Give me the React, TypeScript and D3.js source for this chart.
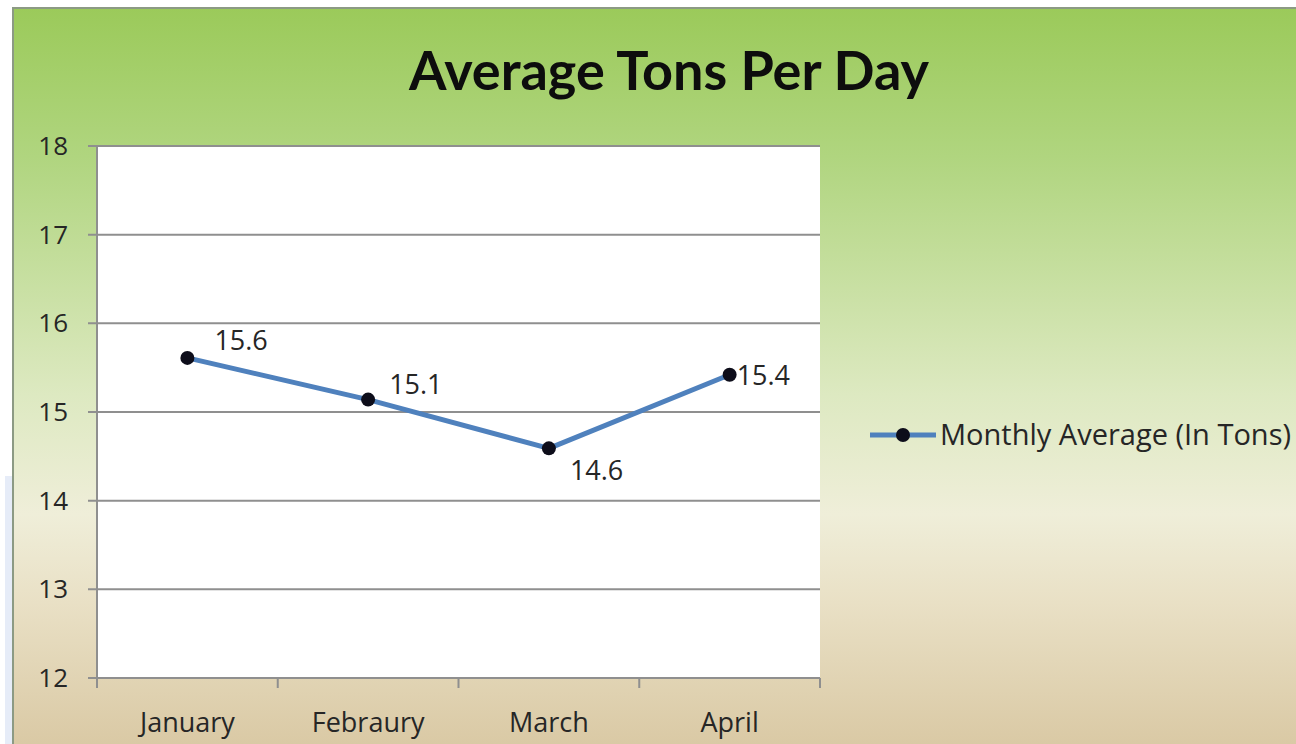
import { useEffect, useRef } from 'react'
import * as d3 from 'd3'

const months = ['January', 'Febraury', 'March', 'April']
const monthlyAverage = [15.61, 15.14, 14.59, 15.42]
const yTicks = [12, 13, 14, 15, 16, 17, 18]
const seriesName = 'Monthly Average (In Tons)'
const chartTitle = 'Average Tons Per Day'

const WIDTH = 1296
const HEIGHT = 744
const PLOT = { left: 97, top: 146, right: 820, bottom: 678 }
const FONT = '"Open Sans", Lato, sans-serif'
const TITLE_FONT = 'Lato, "Open Sans", sans-serif'

// label offsets per point (dx, dy) as Excel placed them
const LABEL_POS: Array<[number, number]> = [
  [27, -8],
  [21, -6],
  [21, 32],
  [7, 10],
]

export default function App() {
  const svgRef = useRef<SVGSVGElement | null>(null)

  useEffect(() => {
    if (!svgRef.current) {
      return
    }

    const svg = d3.select(svgRef.current)
    svg.selectAll('*').remove()

    const defs = svg.append('defs')
    const grad = defs
      .append('linearGradient')
      .attr('id', 'bg-grad')
      .attr('x1', 0)
      .attr('y1', 0)
      .attr('x2', 0)
      .attr('y2', 1)
    const stops: Array<[number, string]> = [
      [0, '#9bca5a'],
      [0.2, '#b0d57f'],
      [0.52, '#dde9c1'],
      [0.68, '#efeed9'],
      [0.8, '#e9e0c5'],
      [1, '#d9c8a3'],
    ]
    grad
      .selectAll('stop')
      .data(stops)
      .enter()
      .append('stop')
      .attr('offset', (d: [number, string]) => d[0])
      .attr('stop-color', (d: [number, string]) => d[1])

    svg.append('rect').attr('width', WIDTH).attr('height', HEIGHT).attr('fill', '#ffffff')
    svg
      .append('rect')
      .attr('x', 5)
      .attr('y', 476)
      .attr('width', 8)
      .attr('height', HEIGHT - 476)
      .attr('fill', '#e6ecf8')

    svg
      .append('rect')
      .attr('x', 13)
      .attr('y', 8)
      .attr('width', WIDTH)
      .attr('height', HEIGHT)
      .attr('fill', 'url(#bg-grad)')
      .attr('stroke', '#8c9a84')
      .attr('stroke-width', 2)

    const x = d3
      .scaleBand<string>()
      .domain(months)
      .range([PLOT.left, PLOT.right])
    const y = d3.scaleLinear().domain([12, 18]).range([PLOT.bottom, PLOT.top])

    svg
      .append('rect')
      .attr('x', PLOT.left)
      .attr('y', PLOT.top)
      .attr('width', PLOT.right - PLOT.left)
      .attr('height', PLOT.bottom - PLOT.top)
      .attr('fill', '#ffffff')

    // gridlines + left ticks
    svg
      .selectAll('line.grid')
      .data(yTicks)
      .enter()
      .append('line')
      .attr('class', 'grid')
      .attr('x1', PLOT.left - 9)
      .attr('x2', PLOT.right)
      .attr('y1', (d: number) => y(d))
      .attr('y2', (d: number) => y(d))
      .attr('stroke', '#8f8f8f')
      .attr('stroke-width', 2)

    svg
      .append('line')
      .attr('x1', PLOT.left)
      .attr('x2', PLOT.left)
      .attr('y1', PLOT.top)
      .attr('y2', PLOT.bottom + 10)
      .attr('stroke', '#8f8f8f')
      .attr('stroke-width', 2)

    const xTickPos = months.map((m) => x(m) as number).concat([PLOT.right])
    svg
      .selectAll('line.xtick')
      .data(xTickPos)
      .enter()
      .append('line')
      .attr('class', 'xtick')
      .attr('x1', (d: number) => d)
      .attr('x2', (d: number) => d)
      .attr('y1', PLOT.bottom)
      .attr('y2', PLOT.bottom + 10)
      .attr('stroke', '#8f8f8f')
      .attr('stroke-width', 2)

    svg
      .selectAll('text.ylabel')
      .data(yTicks)
      .enter()
      .append('text')
      .attr('class', 'ylabel')
      .attr('x', 68)
      .attr('y', (d: number) => y(d) + 9)
      .attr('text-anchor', 'end')
      .attr('font-family', FONT)
      .attr('font-size', 26)
      .attr('fill', '#262626')
      .text((d: number) => String(d))

    svg
      .selectAll('text.xlabel')
      .data(months)
      .enter()
      .append('text')
      .attr('class', 'xlabel')
      .attr('x', (d: string) => (x(d) as number) + x.bandwidth() / 2)
      .attr('y', 732)
      .attr('text-anchor', 'middle')
      .attr('font-family', FONT)
      .attr('font-size', 27)
      .attr('fill', '#262626')
      .text((d: string) => d)

    const cx = (i: number) => (x(months[i]) as number) + x.bandwidth() / 2

    const line = d3
      .line<number>()
      .x((_: number, i: number) => cx(i))
      .y((d: number) => y(d))

    svg
      .append('path')
      .datum(monthlyAverage)
      .attr('d', line)
      .attr('fill', 'none')
      .attr('stroke', '#4f81bd')
      .attr('stroke-width', 5)
      .attr('stroke-linejoin', 'round')

    svg
      .selectAll('circle.pt')
      .data(monthlyAverage)
      .enter()
      .append('circle')
      .attr('class', 'pt')
      .attr('cx', (_: number, i: number) => cx(i))
      .attr('cy', (d: number) => y(d))
      .attr('r', 7)
      .attr('fill', '#0d0d1a')

    const fmt = d3.format('.1f')
    svg
      .selectAll('text.dlabel')
      .data(monthlyAverage)
      .enter()
      .append('text')
      .attr('class', 'dlabel')
      .attr('x', (_: number, i: number) => cx(i) + LABEL_POS[i][0])
      .attr('y', (d: number, i: number) => y(d) + LABEL_POS[i][1])
      .attr('font-family', FONT)
      .attr('font-size', 27)
      .attr('fill', '#262626')
      .text((d: number) => fmt(d))

    svg
      .append('text')
      .attr('x', 669)
      .attr('y', 90)
      .attr('text-anchor', 'middle')
      .attr('font-family', TITLE_FONT)
      .attr('font-size', 54)
      .attr('font-weight', 700)
      .attr('fill', '#0d0d0d')
      .text(chartTitle)

    // legend
    const legend = svg.append('g').attr('transform', 'translate(870, 435)')
    legend
      .append('line')
      .attr('x1', 0)
      .attr('x2', 66)
      .attr('stroke', '#4f81bd')
      .attr('stroke-width', 5)
    legend.append('circle').attr('cx', 33).attr('r', 7).attr('fill', '#0d0d1a')
    legend
      .append('text')
      .attr('x', 70)
      .attr('y', 10)
      .attr('font-family', FONT)
      .attr('font-size', 29)
      .attr('fill', '#262626')
      .text(seriesName)
  }, [])

  return (
    <svg
      ref={svgRef}
      width={WIDTH}
      height={HEIGHT}
      style={{ position: 'absolute', left: 0, top: 0 }}
      role="img"
      aria-label={chartTitle}
    />
  )
}
